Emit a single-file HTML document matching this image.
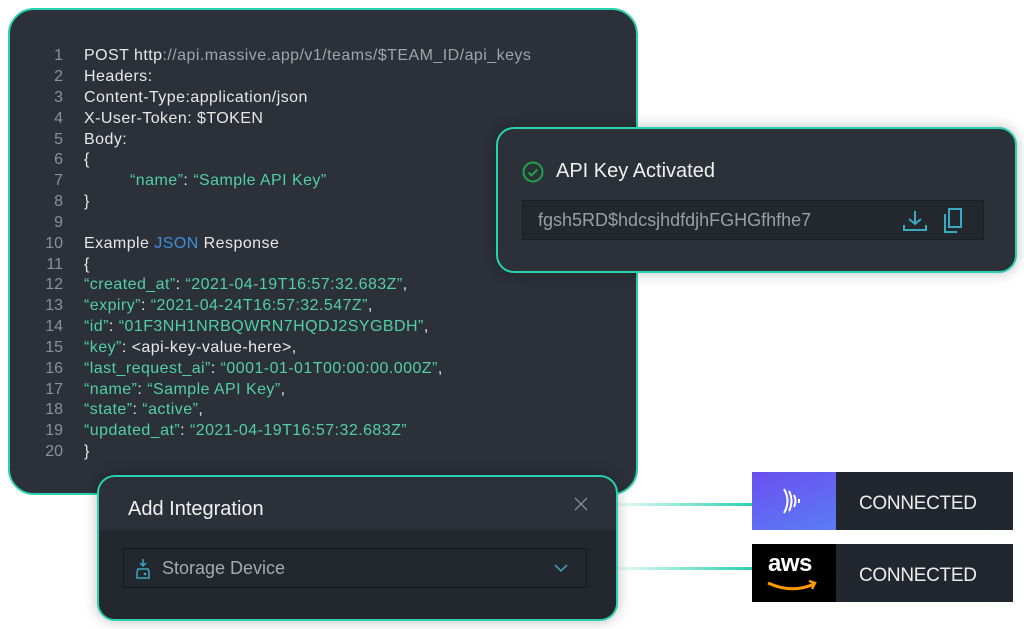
<!DOCTYPE html>
<html><head><meta charset="utf-8"><style>
html,body{margin:0;width:1024px;height:629px;overflow:hidden}
body{background:#fff;position:relative;font-family:"Liberation Sans",sans-serif}
.code{position:absolute;left:8px;top:8px;width:630px;height:487px;background:#2b3039;border:2px solid #2ad1b0;border-radius:26px;box-sizing:border-box}
.ln{position:absolute;font-size:16px;color:#e8e8ea;white-space:nowrap;letter-spacing:0.45px}
.n{position:absolute;width:24px;text-align:right;color:#8c9098;font-size:16px}
.g{color:#52cfa6}.gr{color:#a0a4ab}.b{color:#3f8ed8}
.card{position:absolute;background:#2b3039;border:2px solid #2ad1b0;border-radius:18px;box-sizing:border-box;box-shadow:0 0 14px rgba(0,0,0,.25)}
.line{position:absolute;height:3px;background:linear-gradient(90deg,rgba(42,209,176,.1),#2ad1b0)}
.badge{position:absolute;left:752px;width:261px;height:58px;background:#22262e}
.badge .ic{position:absolute;left:0;top:0;width:84px;height:58px}
.badge .t{position:absolute;left:107px;top:21px;color:#eee;font-size:19px;letter-spacing:-0.3px}
</style></head><body>
<div class="code"></div>
<div style="position:absolute;left:0;top:0">
<div class="n" style="left:39px;top:47px">1</div><div class="ln" style="left:84px;top:47px">POST http<span class="gr">://api.massive.app/v1/teams/$TEAM_ID/api_keys</span></div>
<div class="n" style="left:39px;top:68px">2</div><div class="ln" style="left:84px;top:68px">Headers:</div>
<div class="n" style="left:39px;top:89px">3</div><div class="ln" style="left:84px;top:89px">Content-Type:application/json</div>
<div class="n" style="left:39px;top:110px">4</div><div class="ln" style="left:84px;top:110px">X-User-Token: $TOKEN</div>
<div class="n" style="left:39px;top:131px">5</div><div class="ln" style="left:84px;top:131px">Body:</div>
<div class="n" style="left:39px;top:151px">6</div><div class="ln" style="left:84px;top:151px">{</div>
<div class="n" style="left:39px;top:172px">7</div><div class="ln g" style="left:130px;top:172px">“name”<span style="color:#e8e8ea">:</span> “Sample API Key”</div>
<div class="n" style="left:39px;top:193px">8</div><div class="ln" style="left:84px;top:193px">}</div>
<div class="n" style="left:39px;top:214px">9</div>
<div class="n" style="left:39px;top:235px">10</div><div class="ln" style="left:84px;top:235px">Example <span class="b">JSON</span> Response</div>
<div class="n" style="left:39px;top:256px">11</div><div class="ln" style="left:84px;top:256px">{</div>
<div class="n" style="left:39px;top:276px">12</div><div class="ln g" style="left:84px;top:276px">“created_at”<span style="color:#e8e8ea">:</span> “2021-04-19T16:57:32.683Z”<span style="color:#e8e8ea">,</span></div>
<div class="n" style="left:39px;top:297px">13</div><div class="ln g" style="left:84px;top:297px">“expiry”<span style="color:#e8e8ea">:</span> “2021-04-24T16:57:32.547Z”<span style="color:#e8e8ea">,</span></div>
<div class="n" style="left:39px;top:318px">14</div><div class="ln g" style="left:84px;top:318px">“id”<span style="color:#e8e8ea">:</span> “01F3NH1NRBQWRN7HQDJ2SYGBDH”<span style="color:#e8e8ea">,</span></div>
<div class="n" style="left:39px;top:339px">15</div><div class="ln g" style="left:84px;top:339px">“key”<span style="color:#e8e8ea">: &lt;api-key-value-here&gt;,</span></div>
<div class="n" style="left:39px;top:360px">16</div><div class="ln g" style="left:84px;top:360px">“last_request_ai”<span style="color:#e8e8ea">:</span> “0001-01-01T00:00:00.000Z”<span style="color:#e8e8ea">,</span></div>
<div class="n" style="left:39px;top:381px">17</div><div class="ln g" style="left:84px;top:381px">“name”<span style="color:#e8e8ea">:</span> “Sample API Key”<span style="color:#e8e8ea">,</span></div>
<div class="n" style="left:39px;top:401px">18</div><div class="ln g" style="left:84px;top:401px">“state”<span style="color:#e8e8ea">:</span> “active”<span style="color:#e8e8ea">,</span></div>
<div class="n" style="left:39px;top:422px">19</div><div class="ln g" style="left:84px;top:422px">“updated_at”<span style="color:#e8e8ea">:</span> “2021-04-19T16:57:32.683Z”</div>
<div class="n" style="left:39px;top:443px">20</div><div class="ln" style="left:84px;top:443px">}</div>
</div>

<div class="card" style="left:496px;top:127px;width:521px;height:146px">
 <svg style="position:absolute;left:24px;top:32px" width="22" height="22"><circle cx="11" cy="11" r="9.5" fill="none" stroke="#1fa34a" stroke-width="2"/><path d="M6.5 11.5l3 3 6-6" fill="none" stroke="#1fa34a" stroke-width="2"/></svg>
 <div style="position:absolute;left:58px;top:31px;color:#f0f0f0;font-size:20px">API Key Activated</div>
 <div style="position:absolute;left:24px;top:71px;width:462px;height:40px;background:#23272e;border:1px solid #1c1f25;box-sizing:border-box">
  <div style="position:absolute;left:15px;top:9px;color:#9a9ea5;font-size:18px">fgsh5RD$hdcsjhdfdjhFGHGfhfhe7</div>
  <svg style="position:absolute;left:379px;top:8px" width="26" height="24"><path d="M13 2v13M7 10l6 5 6-5M2 16v5h22v-5" fill="none" stroke="#3aa9c2" stroke-width="2"/></svg>
  <svg style="position:absolute;left:419px;top:6px" width="22" height="28"><rect x="7" y="2" width="12" height="18" fill="none" stroke="#3aa9c2" stroke-width="2"/><path d="M3 7v18h12" fill="none" stroke="#3aa9c2" stroke-width="2"/></svg>
 </div>
</div>

<div class="line" style="left:617px;top:503px;width:135px"></div>
<div class="line" style="left:617px;top:567px;width:135px"></div>

<div class="card" style="left:97px;top:475px;width:521px;height:146px;overflow:hidden">
 <div style="position:absolute;left:0;top:53px;width:100%;height:100%;background:#23272e"></div>
 <div style="position:absolute;left:29px;top:21px;color:#f0f0f0;font-size:20px">Add Integration</div>
 <svg style="position:absolute;left:475px;top:20px" width="14" height="14"><path d="M1 1l12 12M13 1L1 13" stroke="#8a8e95" stroke-width="1.3"/></svg>
 <div style="position:absolute;left:24px;top:71px;width:464px;height:40px;border:1px solid #15181c;background:#23272e;box-sizing:border-box">
  <svg style="position:absolute;left:11px;top:9px" width="16" height="22"><path d="M8 1v6M5 5l3 3 3-3" fill="none" stroke="#3aa9c2" stroke-width="1.5"/><path d="M3 11h10l1 3v6H2v-6z" fill="none" stroke="#3aa9c2" stroke-width="1.5"/><circle cx="10" cy="16" r="1.3" fill="#3aa9c2"/></svg>
  <div style="position:absolute;left:38px;top:9px;color:#a6aab0;font-size:18px">Storage Device</div>
  <svg style="position:absolute;left:430px;top:14px" width="14" height="10"><path d="M1 2l6 6 6-6" fill="none" stroke="#3aa9c2" stroke-width="1.5"/></svg>
 </div>
</div>

<div class="badge" style="top:472px">
 <div class="ic" style="background:linear-gradient(160deg,#6b4ff0,#5a7cf5)">
  <svg width="84" height="58"><path d="M32 17q7 12 0 24M37 19q5 10 0 20M42 23q3 6 0 12" fill="none" stroke="#fff" stroke-width="2"/><path d="M47 27v4" stroke="#fff" stroke-width="2"/></svg>
 </div>
 <div class="t">CONNECTED</div>
</div>
<div class="badge" style="top:544px">
 <div class="ic" style="background:#000">
  <div style="position:absolute;left:16px;top:6px;color:#fff;font-size:24px;font-weight:bold;letter-spacing:-0.5px">aws</div>
  <svg style="position:absolute;left:14px;top:36px" width="56" height="14"><path d="M2 3q24 11 46 1" fill="none" stroke="#f90" stroke-width="3"/><path d="M43 1l6 2-3 6" fill="none" stroke="#f90" stroke-width="2.5"/></svg>
 </div>
 <div class="t">CONNECTED</div>
</div>
</body></html>
